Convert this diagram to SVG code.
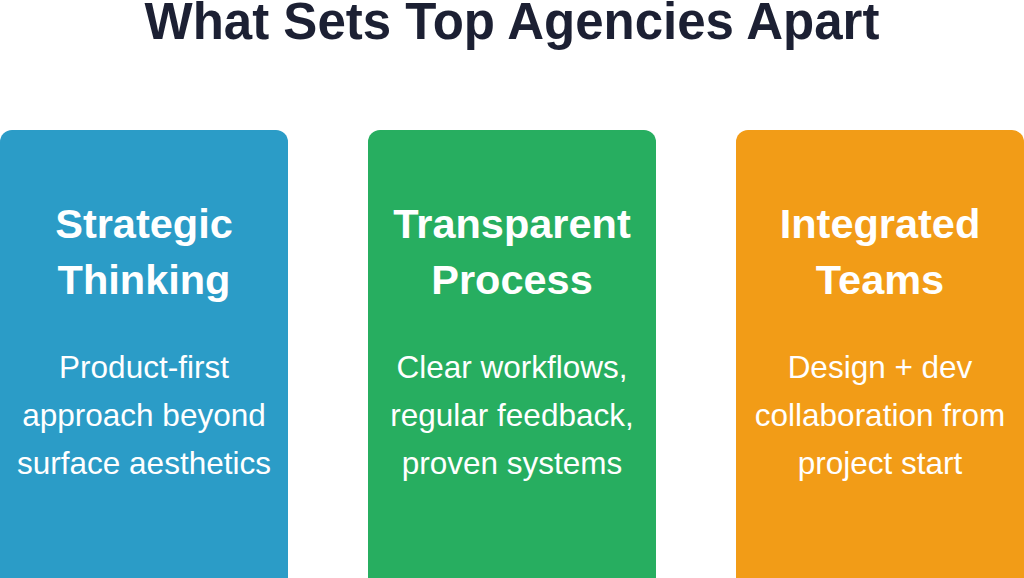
<svg xmlns="http://www.w3.org/2000/svg" width="1024" height="578" viewBox="0 0 1024 578">
<style>
.t{font-family:"Liberation Sans",Arial,sans-serif;fill:#fff;text-anchor:middle}
.h{font-size:41.5px;font-weight:bold}
.b{font-size:31.5px}
</style>
<rect width="1024" height="578" fill="#fff"/>
<text x="512" y="39" font-family="'Liberation Sans',Arial,sans-serif" font-size="51" font-weight="bold" fill="#1c2033" text-anchor="middle">What Sets Top Agencies Apart</text>
<g id="n1"><rect x="0" y="130" width="288" height="460" rx="12" fill="#2b9cc7"/>
<text class="t h" x="144" y="238">Strategic</text><text class="t h" x="144" y="294">Thinking</text>
<text class="t b" x="144" y="378">Product-first</text><text class="t b" x="144" y="426">approach beyond</text><text class="t b" x="144" y="474">surface aesthetics</text></g>
<g id="n2"><rect x="368" y="130" width="288" height="460" rx="12" fill="#27ae60"/>
<text class="t h" x="512" y="238">Transparent</text><text class="t h" x="512" y="294">Process</text>
<text class="t b" x="512" y="378">Clear workflows,</text><text class="t b" x="512" y="426">regular feedback,</text><text class="t b" x="512" y="474">proven systems</text></g>
<g id="n3"><rect x="736" y="130" width="288" height="460" rx="12" fill="#f29c17"/>
<text class="t h" x="880" y="238">Integrated</text><text class="t h" x="880" y="294">Teams</text>
<text class="t b" x="880" y="378">Design + dev</text><text class="t b" x="880" y="426">collaboration from</text><text class="t b" x="880" y="474">project start</text></g>
<g id="connectors"/>
</svg>
